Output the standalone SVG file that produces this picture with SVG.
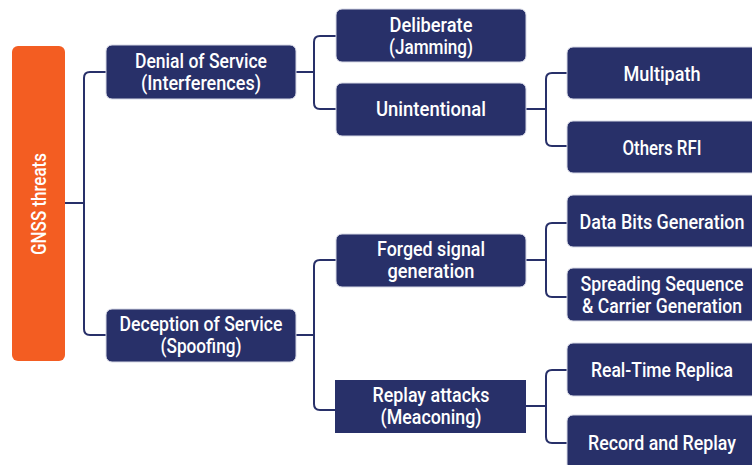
<svg xmlns="http://www.w3.org/2000/svg" width="752" height="465" viewBox="0 0 752 465">
<style>
.n{fill:#283069;stroke:#d6d8e6;stroke-width:1}
.t{fill:#ffffff;font-family:Roboto,"DejaVu Sans Condensed",sans-serif;font-weight:500;font-size:20px;text-anchor:middle}
.c{fill:none;stroke:#283069;stroke-width:2}
</style>
<rect width="752" height="465" fill="#ffffff"/>
<g id="connectors">
<path class="c" d="M65 203H84"/>
<path class="c" d="M106 72H90Q84 72 84 78V329Q84 335 90 335H106"/>
<path class="c" d="M296 72H314"/>
<path class="c" d="M336 36H320Q314 36 314 42V103Q314 109 320 109H336"/>
<path class="c" d="M526 109H546"/>
<path class="c" d="M567 73H552Q546 73 546 79V140Q546 146 552 146H567"/>
<path class="c" d="M296 335H314"/>
<path class="c" d="M336 260H320Q314 260 314 266V404Q314 410 320 410H336"/>
<path class="c" d="M526 260H546"/>
<path class="c" d="M567 223H552Q546 223 546 229V291Q546 297 552 297H567"/>
<path class="c" d="M526 406H546"/>
<path class="c" d="M567 370H552Q546 370 546 376V437Q546 443 552 443H567"/>
</g>
<g id="gnss">
<rect x="12" y="46" width="53" height="315" rx="6" fill="#f35d22"/>
<text class="t" transform="translate(46 204) rotate(-90)" textLength="102" lengthAdjust="spacingAndGlyphs">GNSS threats</text>
</g>
<g id="denial">
<rect class="n" x="106" y="45" width="190" height="54" rx="6"/>
<text class="t" x="201" y="68" textLength="132" lengthAdjust="spacingAndGlyphs">Denial of Service</text>
<text class="t" x="201" y="90" textLength="120" lengthAdjust="spacingAndGlyphs">(Interferences)</text>
</g>
<g id="deception">
<rect class="n" x="106" y="309" width="190" height="53" rx="6"/>
<text class="t" x="201" y="331" textLength="163" lengthAdjust="spacingAndGlyphs">Deception of Service</text>
<text class="t" x="201" y="353" textLength="81" lengthAdjust="spacingAndGlyphs">(Spoofing)</text>
</g>
<g id="deliberate">
<rect class="n" x="336" y="9" width="190" height="53" rx="6"/>
<text class="t" x="431" y="32" textLength="83" lengthAdjust="spacingAndGlyphs">Deliberate</text>
<text class="t" x="431" y="54" textLength="84" lengthAdjust="spacingAndGlyphs">(Jamming)</text>
</g>
<g id="unintentional">
<rect class="n" x="336" y="83" width="190" height="53" rx="6"/>
<text class="t" x="431" y="116" textLength="110" lengthAdjust="spacingAndGlyphs">Unintentional</text>
</g>
<g id="multipath">
<rect class="n" x="567" y="47" width="192" height="52" rx="6"/>
<text class="t" x="662" y="81" textLength="77" lengthAdjust="spacingAndGlyphs">Multipath</text>
</g>
<g id="others">
<rect class="n" x="567" y="121" width="192" height="52" rx="6"/>
<text class="t" x="662" y="155" textLength="79" lengthAdjust="spacingAndGlyphs">Others RFI</text>
</g>
<g id="forged">
<rect class="n" x="336" y="234" width="190" height="53" rx="6"/>
<text class="t" x="431" y="256" textLength="108" lengthAdjust="spacingAndGlyphs">Forged signal</text>
<text class="t" x="431" y="278" textLength="87" lengthAdjust="spacingAndGlyphs">generation</text>
</g>
<g id="replay">
<rect x="335" y="380" width="191" height="53" fill="#283069"/>
<text class="t" x="431" y="402" textLength="117" lengthAdjust="spacingAndGlyphs">Replay attacks</text>
<text class="t" x="431" y="424" textLength="101" lengthAdjust="spacingAndGlyphs">(Meaconing)</text>
</g>
<g id="databits">
<rect class="n" x="567" y="195" width="192" height="52" rx="6"/>
<text class="t" x="662" y="229" textLength="165" lengthAdjust="spacingAndGlyphs">Data Bits Generation</text>
</g>
<g id="spreading">
<rect class="n" x="567" y="268" width="192" height="53" rx="6"/>
<text class="t" x="662" y="291" textLength="163" lengthAdjust="spacingAndGlyphs">Spreading Sequence</text>
<text class="t" x="662" y="313" textLength="160" lengthAdjust="spacingAndGlyphs">&amp; Carrier Generation</text>
</g>
<g id="realtime">
<rect class="n" x="567" y="343" width="192" height="53" rx="6"/>
<text class="t" x="662" y="377" textLength="142" lengthAdjust="spacingAndGlyphs">Real-Time Replica</text>
</g>
<g id="record">
<rect class="n" x="567" y="415" width="192" height="55" rx="6"/>
<text class="t" x="662" y="450" textLength="148" lengthAdjust="spacingAndGlyphs">Record and Replay</text>
</g>
</svg>
